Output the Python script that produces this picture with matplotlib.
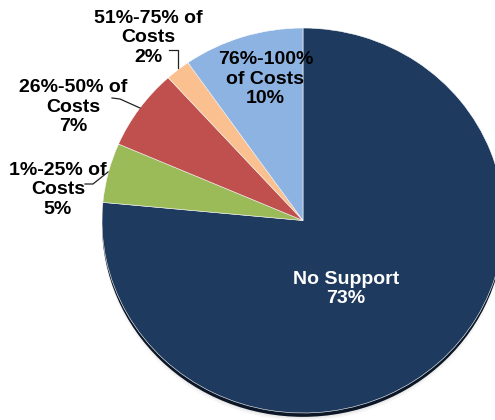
import matplotlib
matplotlib.use("Agg")
import matplotlib.pyplot as plt
from matplotlib.patches import Ellipse
import numpy as np

# slices, clockwise from 12 o'clock
categories = ["No Support", "1%-25% of\nCosts", "26%-50% of\nCosts",
              "51%-75% of\nCosts", "76%-100%\nof Costs"]
shares = [76.5, 5.0, 6.8, 2.0, 9.7]          # slice sizes
pct_labels = ["73%", "5%", "7%", "2%", "10%"]  # percentages as printed
colors = ["#1f3a5f", "#9bbb59", "#c0504d", "#fac090", "#8db3e2"]

plt.rcParams['font.family'] = ['Liberation Sans', 'DejaVu Sans']

fig = plt.figure(figsize=(4.95, 4.2), dpi=100)
fig.set_facecolor("w")
ax = fig.add_axes([0, 0, 1, 1])

# soft shadow under the pie
for i, a in enumerate([0.05, 0.07, 0.1]):
    ax.add_patch(Ellipse((0.0, -0.04 + i * 0.01), 2.0 - i * 0.01, 2.0,
                         color="#555555", alpha=a, lw=0, zorder=0))
ax.add_patch(Ellipse((0.0, -0.02), 2.0, 2.0, color="#0b1626", lw=0, zorder=0.5))

wedges, _ = ax.pie(shares, colors=colors, startangle=90, counterclock=False,
                   wedgeprops=dict(edgecolor="white", linewidth=0.4))
for w in wedges:
    w.set_zorder(1)

# keep the slightly flattened look: x radius 201 px, y radius 192.5 px
ax.set_aspect("auto")
ax.set_xlim(-303 / 201, 192 / 201)
ax.set_ylim(-199.5 / 192.5, 220.5 / 192.5)
ax.axis("off")

def px(x, y):
    # pixel position -> data coords
    return ((x - 303) / 201, (220.5 - y) / 192.5)

fs = 14
ls = 1.22
txt = [c + "\n" + p for c, p in zip(categories, pct_labels)]
ax.text(*px(346, 289), txt[0], ha="center", va="center", fontsize=fs,
        fontweight="bold", color="white", linespacing=ls, zorder=3)
ax.text(*px(265.5, 79), txt[4], ha="center", va="center", fontsize=fs,
        fontweight="bold", color="black", linespacing=ls, zorder=3)

outside = [(1, (58, 190), [(85, 184), (93, 184), (108, 172)]),
           (2, (73, 107), [(112, 98), (120, 99), (140, 108)]),
           (3, (148, 38), [(169, 50), (178, 50), (178, 68)])]
for idx, (lx, ly), pts in outside:
    ax.text(*px(lx, ly), txt[idx], ha="center", va="center", fontsize=fs,
            fontweight="bold", color="black", linespacing=ls, zorder=3)
    xs, ys = zip(*[px(x, y) for x, y in pts])
    ax.plot(xs, ys, color="#222222", lw=0.9, zorder=2, clip_on=False)

fig.savefig("out.png", dpi=100, facecolor="w")
